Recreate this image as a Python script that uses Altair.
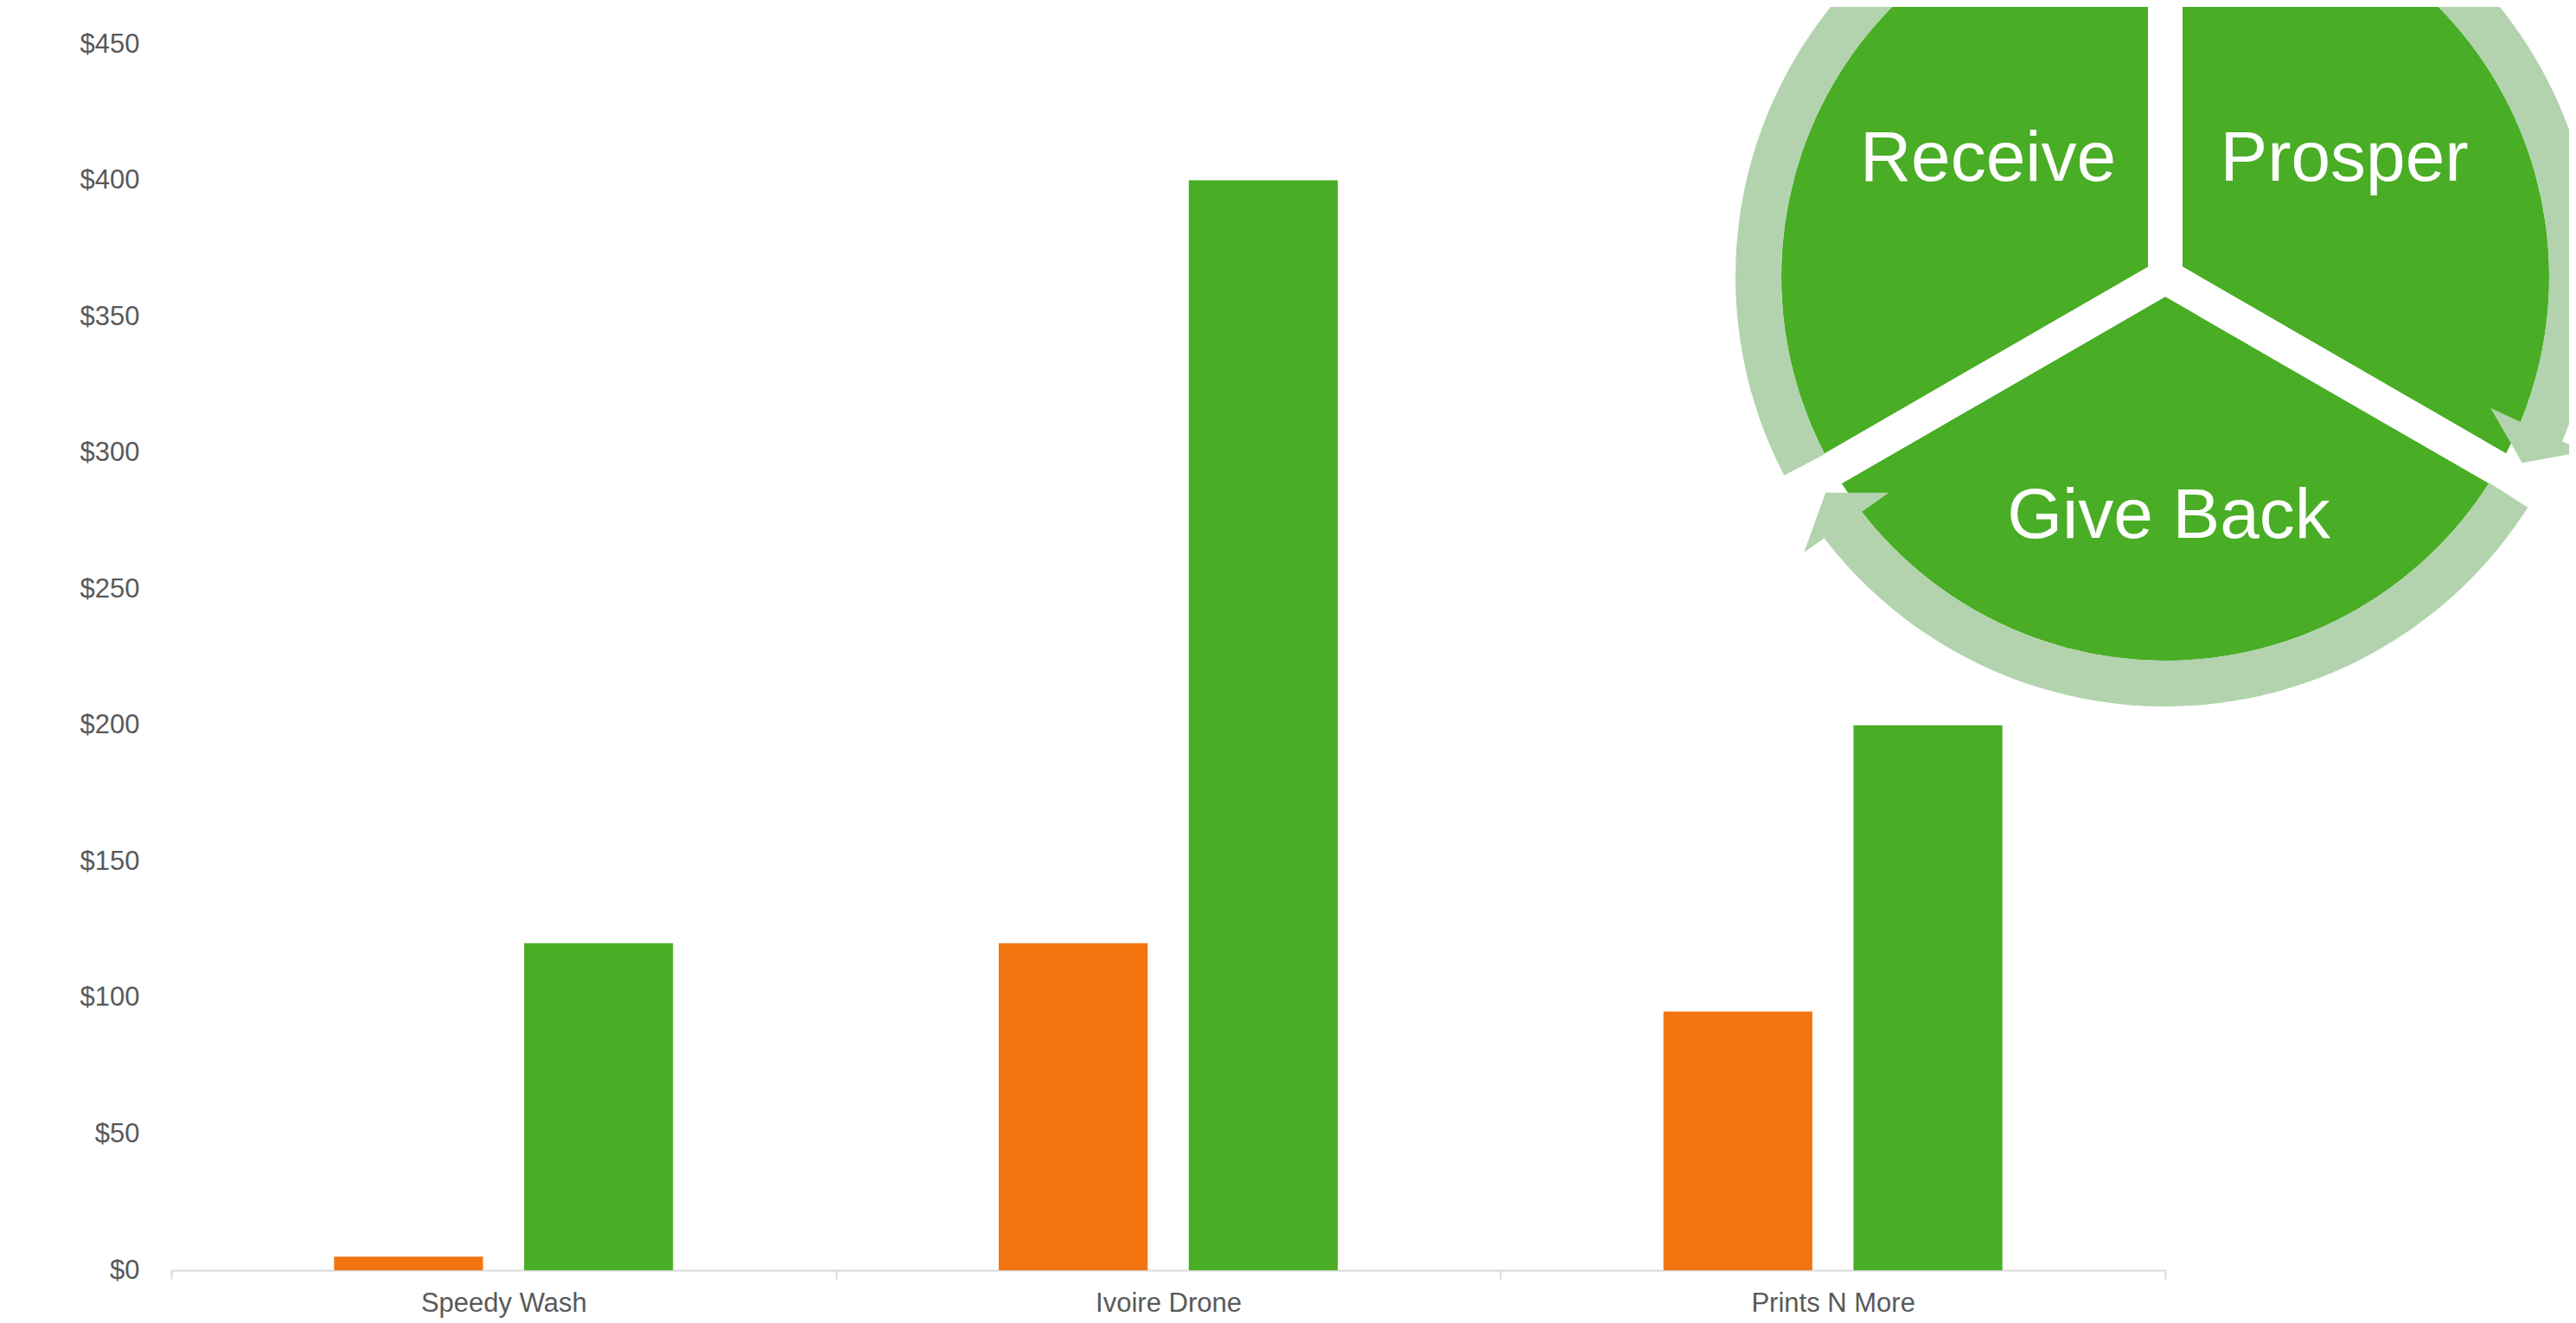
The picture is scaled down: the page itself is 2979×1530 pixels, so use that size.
import math
import altair as alt
import pandas as pd

# ---------------- data ----------------
companies = ["Speedy Wash", "Ivoire Drone", "Prints N More"]
series_names = ["Series 1", "Series 2"]
series1_values = [5, 120, 95]
series2_values = [120, 400, 200]
y_tick_values = [0, 50, 100, 150, 200, 250, 300, 350, 400, 450]
stages_clockwise = ["Prosper", "Give Back", "Receive"]  # clockwise from 12 o'clock
stage_share = [1, 1, 1]

# ---------------- styles / layout ----------------
ORANGE = "#f27510"
GREEN = "#49ad25"
RING = "#b2d3ae"
GREY_TXT = "#595959"
AXIS_GREY = "#d9d9d9"
FONT = "Liberation Sans"

W, H = 2306, 1418
CX, CY = 2306, 269            # diagram centre, plot coordinates
GAP = 40                      # white divider width
R_VISIBLE = 444               # visible wedge radius
RING_IN, RING_OUT = 444, 497
RING_MID = 465
GAP_ANG = math.degrees(math.asin((GAP / 2) / RING_MID))
ARROW_LEN = 42
ARROW_HALF = 60
ARROW_ANG = math.degrees(ARROW_LEN / RING_MID)

rows = []
for i, c in enumerate(companies):
    rows.append({"company": c, "series": series_names[0], "value": series1_values[i]})
    rows.append({"company": c, "series": series_names[1], "value": series2_values[i]})
df = pd.DataFrame(rows)

bars = alt.Chart(df).mark_bar().encode(
    x=alt.X(
        "company:N",
        sort=companies,
        scale=alt.Scale(paddingInner=0, paddingOuter=0),
        axis=alt.Axis(
            title=None, labelAngle=0, labelFontSize=31, labelColor=GREY_TXT, labelFont=FONT,
            labelPadding=13, labelLimit=1000, domainColor=AXIS_GREY, domainWidth=2,
            tickColor=AXIS_GREY, tickWidth=2, tickSize=10, tickBand="extent", grid=False,
        ),
    ),
    xOffset=alt.XOffset(
        "series:N", sort=series_names,
        scale=alt.Scale(paddingInner=0.2165, paddingOuter=0.857),
    ),
    y=alt.Y(
        "value:Q",
        scale=alt.Scale(domain=[0, 450], nice=False),
        axis=alt.Axis(
            title=None, values=y_tick_values, format="$,.0f", grid=False, domain=False,
            ticks=False, tickSize=0, labelPadding=37, labelFontSize=31, labelColor=GREY_TXT,
            labelFont=FONT,
        ),
    ),
    color=alt.Color("series:N", sort=series_names,
                    scale=alt.Scale(domain=series_names, range=[ORANGE, GREEN]), legend=None),
)

# ---- cycle diagram ----
stage_df = pd.DataFrame({"stage": stages_clockwise, "share": stage_share,
                         "idx": list(range(len(stages_clockwise)))})
wedges = alt.Chart(stage_df).mark_arc(
    radius=R_VISIBLE + GAP / 2, stroke="white", strokeWidth=GAP, fill=GREEN, strokeJoin="miter"
).encode(
    theta=alt.Theta("share:Q", stack=True),
    order=alt.Order("idx:Q"),
    x=alt.value(CX), y=alt.value(CY),
)

seg_rows = []
for i, s in enumerate(stages_clockwise):
    a0 = 120 * i + GAP_ANG
    a1 = 120 * (i + 1) - GAP_ANG - ARROW_ANG + 0.6
    seg_rows.append({"stage": s, "t0": math.radians(a0), "t1": math.radians(a1)})
ring_df = pd.DataFrame(seg_rows)
ring = alt.Chart(ring_df).mark_arc(radius=RING_OUT, radius2=RING_IN, fill=RING).encode(
    theta=alt.Theta("t0:Q", scale=None),
    theta2="t1:Q",
    x=alt.value(CX), y=alt.value(CY),
)

ARROW_PATH = "M-1,0.35L0,-0.35L1,0.35Z"
arrows = []
for i, s in enumerate(stages_clockwise):
    ac = 120 * (i + 1) - GAP_ANG - ARROW_ANG / 2
    th = math.radians(ac)
    px = CX + RING_MID * math.sin(th)
    py = CY - RING_MID * math.cos(th)
    arrows.append(
        alt.Chart(pd.DataFrame({"stage": [s]})).mark_point(
            shape=ARROW_PATH, size=(2 * ARROW_HALF) ** 2, filled=True, fill=RING,
            strokeWidth=0, opacity=1, angle=(ac + 90) % 360,
        ).encode(x=alt.value(px), y=alt.value(py))
    )

label_pos = {"Receive": (2101, 158), "Prosper": (2513, 158), "Give Back": (2310, 571)}
labels = []
for s in stages_clockwise:
    lx, ly = label_pos[s]
    labels.append(
        alt.Chart(pd.DataFrame({"stage": [s]})).mark_text(
            fontSize=82, font=FONT, color="white", align="center", baseline="alphabetic"
        ).encode(text="stage:N", x=alt.value(lx), y=alt.value(ly))
    )

chart = alt.layer(bars, wedges, ring, *arrows, *labels).properties(
    width=W, height=H,
    autosize=alt.AutoSizeParams(type="none"),
    padding={"left": 190, "top": 43, "right": 467, "bottom": 58},
).configure(font=FONT, background="white").configure_view(strokeWidth=0, stroke="transparent")

chart.save("out.html", embed_options={"renderer": "svg", "actions": False})
